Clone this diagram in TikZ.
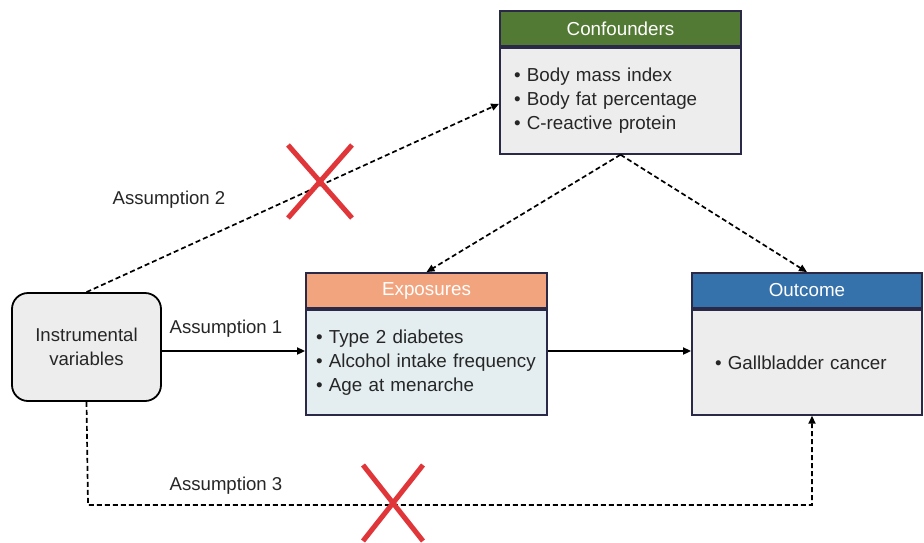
\documentclass[tikz,border=0pt]{standalone}
\usepackage{fontspec}
\setmainfont{Liberation Sans}
\usetikzlibrary{arrows.meta}

\definecolor{framecol}{HTML}{2A2A48}
\definecolor{confcol}{HTML}{537A35}
\definecolor{expocol}{HTML}{F2A47F}
\definecolor{outcol}{HTML}{3571AA}
\definecolor{bodygrey}{HTML}{EDEDED}
\definecolor{bodyblue}{HTML}{E4EEF0}
\definecolor{crosscol}{HTML}{E0363A}

\begin{document}
\begin{tikzpicture}[x=1pt,y=-1pt,
    header/.style={draw=framecol,line width=1.8pt,text=white,minimum height=35pt,inner sep=0pt,
        font=\fontsize{18.8}{22}\selectfont},
    listbox/.style={draw=framecol,line width=1.8pt,fill=bodygrey,align=left,anchor=north,
        font=\fontsize{18.8}{24}\selectfont,text=black!85},
    dasharrow/.style={line width=1.7pt,dash pattern=on 5pt off 3pt,-{Triangle[length=8pt,width=7pt]}},
    solidarrow/.style={line width=1.7pt,-{Triangle[length=8pt,width=7pt]}},
    assume/.style={font=\fontsize{18.6}{22}\selectfont,text=black!85},
    cross/.style={crosscol,line width=5pt}]
    % white background fixes the page size
    \useasboundingbox[fill=white] (0,0) rectangle (924,542);

    \node[header,fill=confcol,minimum width=241pt] (confhead) at (620.5,28.5) {Confounders};
    \node[listbox,minimum width=241pt,minimum height=106pt,text width=213pt,inner xsep=14pt]
        (confbody) at (confhead.south) {• Body mass index\\• Body fat percentage\\• C-reactive protein};

    \node[header,fill=expocol,minimum width=241pt] (expohead) at (426.5,290.5) {Exposures};
    \node[listbox,fill=bodyblue,minimum width=241pt,minimum height=105pt,text width=221pt,inner xsep=10pt]
        (expobody) at (expohead.south) {• Type 2 diabetes\\• Alcohol intake frequency\\• Age at menarche};

    \node[header,fill=outcol,minimum width=230pt] (outhead) at (807,290.5) {Outcome};
    \node[listbox,minimum width=230pt,minimum height=105pt,text width=184pt,inner xsep=23pt]
        (outbody) at (outhead.south) {• Gallbladder cancer};

    \node[draw=black,line width=1.8pt,fill=bodygrey,rounded corners=16pt,minimum width=149pt,
        minimum height=108pt,align=center,font=\fontsize{18.6}{24}\selectfont,text=black!85]
        (iv) at (86.5,347) {Instrumental\\variables};

    \coordinate (mid) at ([yshift=-4pt]iv.east);
    \draw[solidarrow] (mid) -- (mid -| expobody.west);
    \draw[solidarrow] (mid -| expobody.east) -- (mid -| outbody.west);
    \draw[dasharrow] (iv.north) -- ([yshift=-3pt]confbody.west);
    \draw[dasharrow] (confbody.south) -- (expohead.north);
    \draw[dasharrow] (confbody.south) -- (outhead.north);
    \coordinate (low) at (88,505);
    \draw[dasharrow] (iv.south) -- (low) -| ([xshift=5pt]outbody.south);

    \node[assume] (a2) at (169,200) {Assumption 2};
    \node[assume] (a1) at (226,329) {Assumption 1};
    \node[assume] (a3) at (226,486) {Assumption 3};

    % red crosses on the violated paths
    \draw[cross] (288,145) -- (352,218) (352,145) -- (288,218);
    \draw[cross] (363,465) -- (423,541) (423,465) -- (363,541);
\end{tikzpicture}
\end{document}
